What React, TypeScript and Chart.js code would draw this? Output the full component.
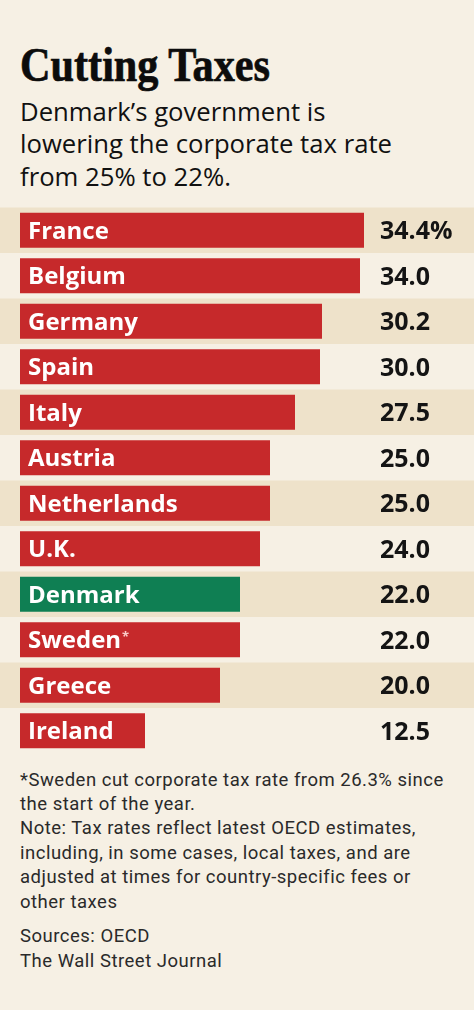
import React, { useEffect, useRef } from "react";
import { Chart, registerables } from "chart.js";

Chart.register(...registerables);

const categories = [
  "France",
  "Belgium",
  "Germany",
  "Spain",
  "Italy",
  "Austria",
  "Netherlands",
  "U.K.",
  "Denmark",
  "Sweden*",
  "Greece",
  "Ireland",
];
const taxRates = [34.4, 34.0, 30.2, 30.0, 27.5, 25.0, 25.0, 24.0, 22.0, 22.0, 20.0, 12.5];
const highlight = "Denmark";

const BG = "#f6f0e4";
const STRIPE = "#eee2ca";
const RED = "#c6292b";
const GREEN = "#0f7f53";

export default function App() {
  const ref = useRef<HTMLCanvasElement | null>(null);

  useEffect(() => {
    document.body.style.margin = "0";
    document.body.style.background = BG;
    const canvas = ref.current;
    if (!canvas) return;

    const stripes = {
      id: "stripes",
      beforeDatasetsDraw(chart: any) {
        const { ctx, chartArea, scales } = chart;
        const y = scales.y;
        const rowH = (chartArea.bottom - chartArea.top) / categories.length;
        ctx.save();
        ctx.fillStyle = STRIPE;
        categories.forEach((_, i) => {
          if (i % 2 === 0) {
            const cy = y.getPixelForValue(i);
            ctx.fillRect(0, cy - rowH / 2, chart.width, rowH);
          }
        });
        ctx.restore();
      },
    };

    const labels = {
      id: "labels",
      afterDatasetsDraw(chart: any) {
        const { ctx } = chart;
        const meta = chart.getDatasetMeta(0);
        ctx.save();
        meta.data.forEach((bar: any, i: number) => {
          const raw = categories[i];
          const star = raw.endsWith("*");
          const name = star ? raw.slice(0, -1) : raw;
          ctx.font = "bold 24px 'Open Sans'";
          ctx.textBaseline = "alphabetic";
          ctx.textAlign = "left";
          ctx.fillStyle = "#ffffff";
          const x0 = bar.base + 8;
          ctx.fillText(name, x0, bar.y + 8.5);
          if (star) {
            const w = ctx.measureText(name).width;
            ctx.font = "bold 13px 'Open Sans'";
            ctx.fillStyle = "rgba(255,220,215,0.9)";
            ctx.fillText("*", x0 + w + 1, bar.y + 1);
          }
          const v = taxRates[i];
          const txt = v.toFixed(1) + (i === 0 ? "%" : "");
          ctx.font = "bold 25px 'Open Sans'";
          ctx.fillStyle = "#141414";
          ctx.fillText(txt, 380, bar.y + 9);
        });
        ctx.restore();
      },
    };

    const chart = new Chart(canvas, {
      type: "bar",
      data: {
        labels: categories,
        datasets: [
          {
            data: taxRates,
            backgroundColor: categories.map((c) => (c === highlight ? GREEN : RED)),
            borderWidth: 0,
            categoryPercentage: 1,
            barPercentage: 35 / 45.5,
          },
        ],
      },
      options: {
        indexAxis: "y",
        animation: false,
        responsive: false,
        maintainAspectRatio: false,
        layout: { padding: { left: 20, right: 0, top: 7.5, bottom: 6.5 } },
        scales: {
          x: { type: "linear", min: 0, max: 45.4, display: false },
          y: { type: "category", display: false, offset: true },
        },
        plugins: {
          legend: { display: false },
          tooltip: { enabled: false },
          title: { display: false },
        },
      },
      plugins: [stripes, labels],
    });
    return () => chart.destroy();
  }, []);

  const foot = {
    position: "absolute" as const,
    left: 20,
    fontFamily: "Roboto, sans-serif",
    fontSize: 18.5,
    letterSpacing: "0.5px",
    whiteSpace: "nowrap" as const,
    color: "#2a2a2a",
  };

  return (
    <div
      style={{
        position: "relative",
        width: 474,
        height: 1010,
        background: BG,
        overflow: "hidden",
        color: "#111",
      }}
    >
      <div
        style={{
          position: "absolute",
          left: 20,
          top: 41,
          fontFamily: "'Liberation Serif', serif",
          fontWeight: 700,
          fontSize: 48,
          lineHeight: "48px",
          whiteSpace: "nowrap",
          transform: "scaleX(0.88)",
          transformOrigin: "left top",
          color: "#0c0c0c",
          WebkitTextStroke: "0.7px #0c0c0c",
        }}
      >
        Cutting Taxes
      </div>
      <div
        style={{
          position: "absolute",
          left: 20,
          top: 95.8,
          fontFamily: "'Open Sans', sans-serif",
          fontSize: 25.7,
          lineHeight: "32.5px",
          whiteSpace: "nowrap",
          color: "#111",
        }}
      >
        Denmark’s government is
        <br />
        lowering the corporate tax rate
        <br />
        from 25% to 22%.
      </div>
      <canvas
        ref={ref}
        width={474}
        height={560}
        style={{ position: "absolute", left: 0, top: 200, width: 474, height: 560 }}
      />
      <div style={{ ...foot, top: 767.5, lineHeight: "24.4px" }}>
        *Sweden cut corporate tax rate from 26.3% since
        <br />
        the start of the year.
        <br />
        Note: Tax rates reflect latest OECD estimates,
        <br />
        including, in some cases, local taxes, and are
        <br />
        adjusted at times for country-specific fees or
        <br />
        other taxes
      </div>
      <div style={{ ...foot, top: 924, lineHeight: "25px" }}>
        Sources: OECD
        <br />
        The Wall Street Journal
      </div>
    </div>
  );
}
